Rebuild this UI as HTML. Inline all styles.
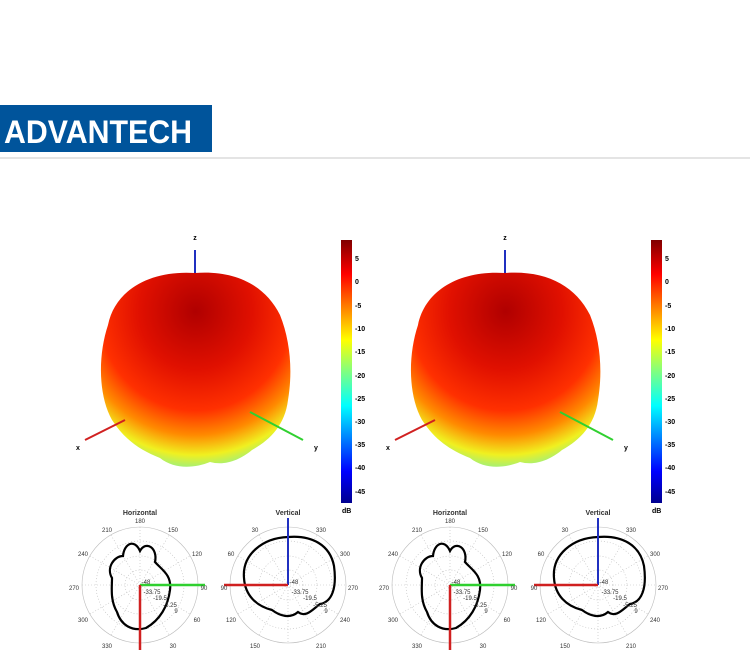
<!DOCTYPE html><html><head><style>body{margin:0;background:#fff}svg{display:block}</style></head><body>
<svg width="750" height="650" xmlns="http://www.w3.org/2000/svg" font-family="Liberation Sans, sans-serif">
<defs>
<linearGradient id="cb" x1="0" y1="1" x2="0" y2="0">
<stop offset="0" stop-color="#00008f"/><stop offset="0.12" stop-color="#0000ff"/><stop offset="0.37" stop-color="#00ffff"/><stop offset="0.5" stop-color="#80ff80"/><stop offset="0.62" stop-color="#ffff00"/><stop offset="0.87" stop-color="#ff0000"/><stop offset="1" stop-color="#800000"/>
</linearGradient>
<radialGradient id="bl" cx="0.5" cy="0.2" r="0.85">
<stop offset="0" stop-color="#b00000"/><stop offset="0.35" stop-color="#e01000"/><stop offset="0.6" stop-color="#ff3000"/><stop offset="0.75" stop-color="#ff8a00"/><stop offset="0.87" stop-color="#f0f020"/><stop offset="1" stop-color="#70f0b0"/>
</radialGradient>
<g id="panel">
<line x1="195" y1="250" x2="195" y2="280" stroke="#2030c0" stroke-width="2"/>
<text x="195" y="240" font-size="7" font-weight="bold" text-anchor="middle">z</text>
<path d="M195,273 C150,270 115,290 108,325 C98,355 98,395 112,420 C125,440 140,450 160,458 C175,470 195,468 210,462 C225,466 240,460 252,450 C270,440 285,425 288,400 C293,370 290,340 280,315 C265,285 235,270 195,273Z" fill="url(#bl)"/>
<line x1="85" y1="440" x2="125" y2="420" stroke="#d02020" stroke-width="2"/>
<line x1="250" y1="412" x2="303" y2="440" stroke="#30d030" stroke-width="2"/>
<text x="76" y="450" font-size="7" font-weight="bold">x</text>
<text x="314" y="450" font-size="7" font-weight="bold">y</text>
<rect x="341" y="240" width="11" height="263" fill="url(#cb)"/>
<g font-size="7" font-weight="bold">
<text x="355" y="261">5</text><text x="355" y="284">0</text><text x="355" y="308">-5</text><text x="355" y="331">-10</text><text x="355" y="354">-15</text><text x="355" y="378">-20</text><text x="355" y="401">-25</text><text x="355" y="424">-30</text><text x="355" y="447">-35</text><text x="355" y="470">-40</text><text x="355" y="494">-45</text><text x="342" y="513">dB</text>
</g>
<g fill="none" stroke="#bbb" stroke-width="0.6">
<circle cx="140" cy="585" r="58"/><circle cx="140" cy="585" r="44" stroke-dasharray="1,2"/><circle cx="140" cy="585" r="29" stroke-dasharray="1,2"/><circle cx="140" cy="585" r="15" stroke-dasharray="1,2"/>
<circle cx="288" cy="585" r="58"/><circle cx="288" cy="585" r="44" stroke-dasharray="1,2"/><circle cx="288" cy="585" r="29" stroke-dasharray="1,2"/><circle cx="288" cy="585" r="15" stroke-dasharray="1,2"/>
<path d="M82,585H198M140,527V643M90,556L190,614M90,614L190,556M111,535L169,635M111,635L169,535" stroke-dasharray="1,2"/>
<path d="M230,585H346M288,527V643M238,556L338,614M238,614L338,556M259,535L317,635M259,635L317,535" stroke-dasharray="1,2"/>
</g>
<path d="M140,551 C146,540 158,548 155,562 C162,570 172,575 170,590 C168,606 160,620 146,628 C132,632 121,625 117,612 C110,600 112,588 112,578 C106,568 114,556 123,556 C124,544 134,538 140,551Z" fill="none" stroke="#000" stroke-width="2.2"/>
<path d="M288,537 C312,535 330,545 334,566 C337,588 332,602 320,604 C312,610 306,618 298,612 C290,619 280,616 272,610 C256,606 245,595 244,578 C242,555 262,538 288,537Z" fill="none" stroke="#000" stroke-width="2.2"/>
<line x1="140" y1="585" x2="205" y2="585" stroke="#30d030" stroke-width="2.5"/>
<line x1="140" y1="585" x2="140" y2="650" stroke="#d02020" stroke-width="2.5"/>
<line x1="288" y1="585" x2="288" y2="518" stroke="#2030c0" stroke-width="2"/>
<line x1="288" y1="585" x2="224" y2="585" stroke="#d02020" stroke-width="2.5"/>
<g font-size="6" fill="#333" text-anchor="middle">
<text x="140" y="515" font-weight="bold" font-size="7">Horizontal</text><text x="288" y="515" font-weight="bold" font-size="7">Vertical</text>
<text x="140" y="523">180</text><text x="107" y="532">210</text><text x="173" y="532">150</text><text x="83" y="556">240</text><text x="197" y="556">120</text><text x="74" y="590">270</text><text x="204" y="590">90</text><text x="83" y="622">300</text><text x="197" y="622">60</text><text x="107" y="648">330</text><text x="173" y="648">30</text>
<text x="255" y="532">30</text><text x="321" y="532">330</text><text x="231" y="556">60</text><text x="345" y="556">300</text><text x="224" y="590">90</text><text x="353" y="590">270</text><text x="231" y="622">120</text><text x="345" y="622">240</text><text x="255" y="648">150</text><text x="321" y="648">210</text>
<text x="146" y="584">-48</text><text x="152" y="594">-33.75</text><text x="160" y="600">-19.5</text><text x="170" y="607">-5.25</text><text x="176" y="613">9</text>
<text x="294" y="584">-48</text><text x="300" y="594">-33.75</text><text x="310" y="600">-19.5</text><text x="320" y="607">-5.25</text><text x="326" y="613">9</text>
</g>
</g>
</defs>
<rect x="0" y="105" width="212" height="47" fill="#00549b"/>
<text x="4" y="143" font-size="32" font-weight="bold" fill="#fff" textLength="188" lengthAdjust="spacingAndGlyphs">ADVANTECH</text>
<line x1="0" y1="158" x2="750" y2="158" stroke="#e4e4e4" stroke-width="2"/>
<use href="#panel"/>
<use href="#panel" transform="translate(310,0)"/>
</svg>
</body></html>
